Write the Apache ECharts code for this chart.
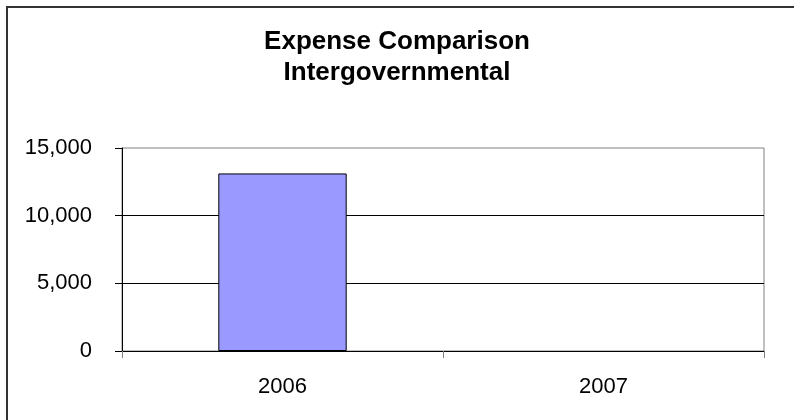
<!DOCTYPE html>
<html>
<head>
<meta charset="utf-8">
<script src="https://cdn.jsdelivr.net/npm/echarts@6/dist/echarts.min.js"></script>
<style>html,body{margin:0;padding:0;background:#fff;}#c{width:794px;height:420px;}</style>
</head>
<body>
<div id="c"></div>
<script>
const titleLines = ['Expense Comparison', 'Intergovernmental'];
const categories = ['2006', '2007'];
const expenseValues = [13120, 0];
const yMin = 0, yMax = 15000, yStep = 5000;

const barData = expenseValues.map(v => v === 0
  ? {value: v, itemStyle: {borderWidth: 0}}
  : {value: v});

const chart = echarts.init(document.getElementById('c'), null, {renderer: 'canvas'});
chart.setOption({
  animation: false,
  backgroundColor: '#ffffff',
  textStyle: {fontFamily: 'Liberation Sans, Arial, sans-serif'},
  title: {
    text: titleLines.join('\n'),
    left: 'center',
    top: 26,
    padding: [0, 0, 0, 8],
    textStyle: {fontSize: 26, fontWeight: 'bold', color: '#000', lineHeight: 31, fontFamily: 'Liberation Sans, Arial, sans-serif'}
  },
  graphic: [{
    type: 'rect',
    shape: {x: 7, y: 7, width: 900, height: 500},
    style: {fill: 'none', stroke: '#333', lineWidth: 2},
    silent: true
  }],
  grid: {left: 122, right: 30, top: 148, bottom: 69, show: true, borderColor: '#808080', borderWidth: 1, backgroundColor: 'transparent'},
  xAxis: {
    type: 'category',
    data: categories,
    boundaryGap: true,
    axisLine: {lineStyle: {color: '#000', width: 1}},
    axisTick: {show: true, length: 7, lineStyle: {color: '#808080'}},
    axisLabel: {fontSize: 22, color: '#000', margin: 25, fontFamily: 'Liberation Sans, Arial, sans-serif'},
    splitLine: {show: false}
  },
  yAxis: {
    type: 'value',
    min: yMin, max: yMax, interval: yStep,
    axisLine: {show: true, lineStyle: {color: '#000', width: 1}},
    axisTick: {show: true, length: 7, lineStyle: {color: '#000'}},
    axisLabel: {fontSize: 22, color: '#000', margin: 30, fontFamily: 'Liberation Sans, Arial, sans-serif',
      formatter: v => v.toLocaleString('en-US')},
    splitLine: {show: true, showMaxLine: false, lineStyle: {color: '#000', width: 1}}
  },
  series: [{
    type: 'bar',
    data: barData,
    barWidth: '40%',
    itemStyle: {color: '#9999FF', borderColor: '#000', borderWidth: 1}
  }]
});
</script>
</body>
</html>
